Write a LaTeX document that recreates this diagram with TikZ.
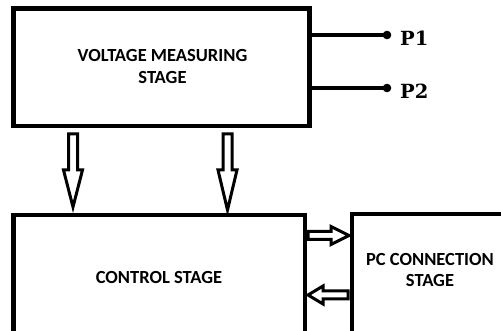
\documentclass[tikz,border=0pt]{standalone}
\usepackage{fontspec}
\setmainfont{Carlito}
\newfontfamily\pfont{DejaVu Serif}
\usetikzlibrary{calc}
\tikzset{
  box/.style={draw, line width=4.5pt, inner sep=0pt, fill=white},
  lbl/.style={font=\fontsize{18.5}{21.5}\selectfont\bfseries, align=center, inner sep=0pt},
  plbl/.style={font=\fontsize{19.5}{22}\selectfont\pfont\bfseries, inner sep=0pt, anchor=west},
  wire/.style={line width=4pt},
  harrow/.style={draw, line width=3pt, fill=white, miter limit=20},
}
\begin{document}
\begin{tikzpicture}[x=1pt,y=-1pt]
\useasboundingbox (0,0) rectangle (501,331);
\clip (0,0) rectangle (501,331);
% boxes
\node[box, minimum width=296pt, minimum height=117.5pt] (vm) at (161.5,67.25) {};
\node[box, minimum width=291.5pt, minimum height=140pt] (cs) at (159.25,285) {};
\node[box, minimum width=170pt, minimum height=140pt] (pc) at (437,284) {};
% labels
\node[lbl] (vmt) at (162.5,66.5) {VOLTAGE MEASURING\\STAGE};
\node[lbl] (cst) at (159,277) {CONTROL STAGE};
\node[lbl] (pct) at (430,270) {PC CONNECTION\\STAGE};
% outputs
\coordinate (p1) at (387,35);
\coordinate (p2) at (387,88);
\draw[wire] (vm.east |- p1) -- (p1);
\draw[wire] (vm.east |- p2) -- (p2);
\fill (p1) circle (4.3);
\fill (p2) circle (4.3);
\node[plbl] (p1t) at (400,38) {P1};
\node[plbl] (p2t) at (400,91) {P2};
% down arrows
\foreach \c/\b in {73/207,227.5/210}{
  \draw[harrow] (\c-4.5,134) -- (\c+4.5,134) -- (\c+4.5,170) -- (\c+9.5,170) -- (\c,\b) -- (\c-9.5,170) -- (\c-4.5,170) -- cycle;
}
% right arrow (control -> pc)
\draw[harrow] (308,235.5-4) -- (331,235.5-4) -- (331,235.5-9) -- (349,235.5) -- (331,235.5+9) -- (331,235.5+4) -- (308,235.5+4) -- cycle;
% left arrow (pc -> control)
\draw[harrow] (348,295-4) -- (323,295-4) -- (323,295-9) -- (308,295) -- (323,295+9) -- (323,295+4) -- (348,295+4) -- cycle;
\end{tikzpicture}
\end{document}
